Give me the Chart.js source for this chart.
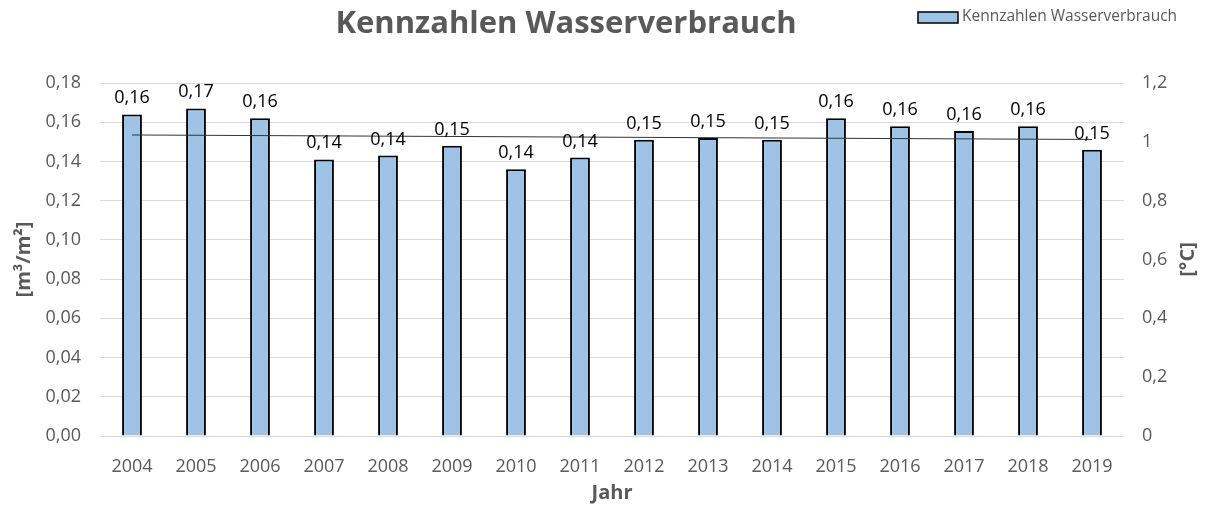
<!DOCTYPE html>
<html lang="de">
<head>
    <meta charset="UTF-8">
    <title>Kennzahlen Wasserverbrauch</title>
    <script src="https://cdn.jsdelivr.net/npm/chart.js"></script>
    <style>
        body { margin: 0; background: #fff; }
        #wrap { width: 1207px; height: 505px; }
    </style>
</head>
<body>
    <div id="wrap">
        <canvas id="waterChart" width="1207" height="505"></canvas>
    </div>

    <script>
        const years = ['2004', '2005', '2006', '2007', '2008', '2009', '2010', '2011', '2012', '2013', '2014', '2015', '2016', '2017', '2018', '2019'];
        const waterValues = [0.164, 0.167, 0.162, 0.141, 0.143, 0.148, 0.136, 0.142, 0.151, 0.152, 0.151, 0.162, 0.158, 0.1555, 0.158, 0.146];
        // Trendlinie: nur Anfangs- und Endpunkt
        const trendValues = [0.1535, null, null, null, null, null, null, null, null, null, null, null, null, null, null, 0.1512];
        const seriesName = 'Kennzahlen Wasserverbrauch';
        const chartTitle = 'Kennzahlen Wasserverbrauch';

        const grey = '#595959';
        const fontName = "'Open Sans', sans-serif";
        const comma = (v, d) => v.toFixed(d).replace('.', ',');

        // Titel, Legende, rechter Achsentitel und Datenbeschriftungen
        const extrasPlugin = {
            id: 'extras',
            afterDatasetsDraw(chart) {
                const ctx = chart.ctx;
                const meta = chart.getDatasetMeta(1);
                ctx.save();
                ctx.font = '18px ' + fontName;
                ctx.fillStyle = '#000';
                ctx.textAlign = 'center';
                ctx.textBaseline = 'alphabetic';
                meta.data.forEach((bar, i) => {
                    ctx.fillText(comma(waterValues[i], 2), bar.x, bar.y - 11);
                });
                ctx.restore();
            },
            afterDraw(chart) {
                const ctx = chart.ctx;
                const ds = chart.data.datasets[1];
                ctx.save();
                ctx.font = 'bold 31px ' + fontName;
                ctx.fillStyle = grey;
                ctx.textAlign = 'center';
                ctx.textBaseline = 'middle';
                ctx.fillText(chartTitle, 566, 24);

                ctx.fillStyle = ds.backgroundColor;
                ctx.fillRect(918, 12, 40, 11);
                ctx.strokeStyle = '#000';
                ctx.lineWidth = 1.5;
                ctx.strokeRect(918, 12, 40, 11);
                ctx.font = '15.5px ' + fontName;
                ctx.fillStyle = grey;
                ctx.textAlign = 'left';
                ctx.fillText(seriesName, 962, 17);

                // rechter Achsentitel, wie links von unten nach oben gelesen
                const area = chart.chartArea;
                ctx.translate(1188, (area.top + area.bottom) / 2);
                ctx.rotate(-Math.PI / 2);
                ctx.font = 'bold 20px ' + fontName;
                ctx.textAlign = 'center';
                ctx.fillText('[°C]', 0, 0);
                ctx.restore();
            }
        };

        const ctx = document.getElementById('waterChart').getContext('2d');
        new Chart(ctx, {
            data: {
                labels: years,
                datasets: [{
                    type: 'line',
                    label: 'Trend',
                    data: trendValues,
                    spanGaps: true,
                    borderColor: '#333',
                    borderWidth: 1,
                    pointRadius: 0,
                    yAxisID: 'y',
                    order: 0
                }, {
                    type: 'bar',
                    label: seriesName,
                    data: waterValues,
                    backgroundColor: '#9dc3e6',
                    borderColor: '#000',
                    borderWidth: 2,
                    categoryPercentage: 1,
                    barPercentage: 0.31,
                    yAxisID: 'y',
                    order: 1
                }]
            },
            options: {
                responsive: false,
                animation: false,
                layout: { padding: { top: 83 } },
                plugins: {
                    legend: { display: false },
                    title: { display: false },
                    tooltip: { enabled: false }
                },
                scales: {
                    x: {
                        grid: { display: false },
                        border: { display: false },
                        ticks: { color: grey, font: { family: fontName, size: 18 }, padding: 12 },
                        title: { display: true, text: 'Jahr', color: grey, font: { family: fontName, size: 20, weight: 'bold' }, padding: 0 },
                        afterFit: s => { s.height = 69; }
                    },
                    y: {
                        position: 'left',
                        min: 0,
                        max: 0.18,
                        ticks: { stepSize: 0.02, color: grey, font: { family: fontName, size: 18 }, padding: 19, callback: v => comma(v, 2) },
                        grid: { color: '#d9d9d9', drawTicks: false },
                        border: { display: false },
                        title: { display: true, text: '[m³/m²]', color: grey, font: { family: fontName, size: 20, weight: 'bold' }, padding: 12 },
                        afterFit: s => { s.width = 100; }
                    },
                    y2: {
                        display: true,
                        position: 'right',
                        min: 0,
                        max: 1.2,
                        ticks: {
                            stepSize: 0.2, color: grey, font: { family: fontName, size: 18 }, padding: 18,
                            callback: v => String(Math.round(v * 10) / 10).replace('.', ',')
                        },
                        grid: { display: false, drawTicks: false },
                        border: { display: false },
                        afterFit: s => { s.width = 83; }
                    }
                }
            },
            plugins: [extrasPlugin]
        });
    </script>
</body>
</html>
